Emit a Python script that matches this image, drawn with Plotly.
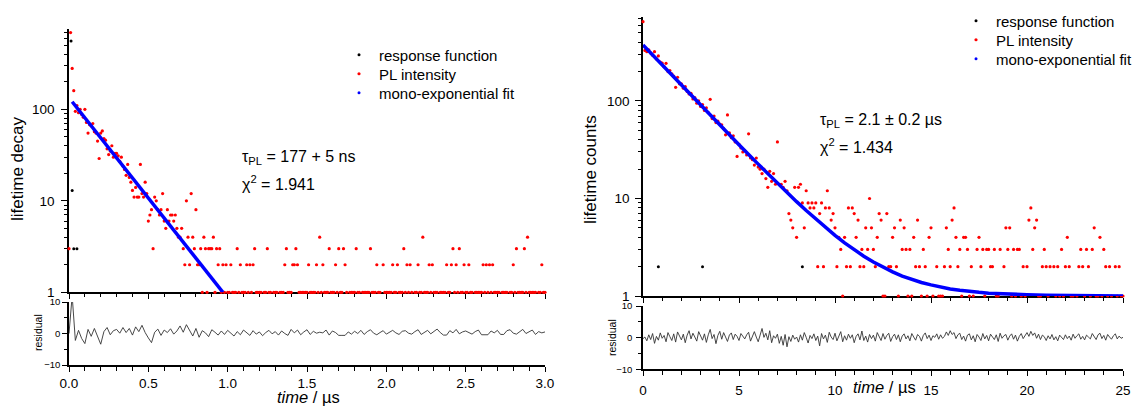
import plotly.graph_objects as go

FONT = "Liberation Sans, Arial, sans-serif"
W, H = 1136, 407

# ---------------- data: left panel (time in µs) ----------------
dt_left = 0.01
pl_left = [3, 690, 280, 160, 95, 110, 92, 100, 88, 82,
           100, 72, 55, 68, 66, 70, 57, 55, 45, 29,
           55, 58, 48, 46, 37, 32, 35, 40, 30, 33,
           33, 31, 27, 30, 24, 22, 19, 25, 18, 16,
           13, 11, 14, 11, 11, 25, 12, 11, 16, 12,
           6, 7, 8, 3, 11, 10, 8, 7, 8, 12,
           6, 5, 8, 6, 7, 7, 6, 7, 5, 4,
           4, 5, 3, 2, 10, 4, 2, 12, 4, 3,
           8, 2, 2, 3, 1, 4, 3, 1, 3, 3,
           3, 4, 1, 3, 2, 3, 1, 2, 1, 2,
           1, 1, 2, 1, 1, 1, 3, 1, 2, 1,
           1, 1, 2, 1, 2, 1, 2, 3, 1, 1,
           1, 1, 0, 1, 1, 3, 1, 1, 0, 1,
           1, 1, 0, 1, 1, 1, 2, 3, 1, 1,
           1, 2, 2, 3, 2, 1, 1, 1, 1, 1,
           1, 2, 1, 1, 1, 1, 2, 1, 4, 1,
           2, 1, 1, 1, 3, 1, 1, 1, 2, 1,
           3, 1, 1, 3, 2, 1, 0, 1, 1, 1,
           1, 3, 1, 1, 0, 1, 1, 1, 1, 1,
           3, 1, 1, 1, 2, 1, 1, 0, 2, 1,
           1, 1, 1, 1, 2, 1, 1, 2, 1, 1,
           1, 3, 1, 2, 1, 2, 1, 0, 1, 1,
           2, 1, 1, 4, 1, 1, 1, 2, 1, 2,
           1, 1, 1, 0, 1, 1, 1, 1, 2, 1,
           1, 2, 3, 1, 2, 1, 3, 1, 1, 2,
           1, 1, 2, 1, 1, 0, 1, 1, 1, 1,
           1, 2, 1, 2, 1, 2, 1, 2, 1, 1,
           1, 1, 0, 1, 1, 1, 1, 0, 1, 1,
           2, 1, 3, 1, 1, 1, 1, 3, 1, 4,
           1, 1, 1, 1, 1, 0, 1, 1, 2, 1,
           1]
t_left = [round(i * dt_left, 3) for i in range(len(pl_left))]

resp_left_t = [0.013, 0.02, 0.03, 0.05]
resp_left = [560, 13, 3, 3]

fit_left_t = [0.02, 0.25, 0.5, 0.75, 0.97]
fit_left = [121, 38, 10.7, 3.04, 1.0]

dt_res_left = 0.02
res_left = [0, 12, -2.2, 1.0, -1.6, -3.2, 1.3, -0.9, 1.6, -1.1,
            -3.4, 0.6, 1.9, -0.4, 0.9, 1.3, 0.1, 1.9, 0.3, 1.6,
            -0.5, 2.1, 0.6, 2.6, 0.3, -1.4, -2.9, 0.4, 1.4, -0.6,
            1.1, 0.3, 1.5, -0.2, 0.8, 2.4, 0.4, 2.8, 0.9, -0.8,
            1.6, -1.2, 0.9, 0.2, -1.0, 1.2, 0.4, -0.5, 0.8, -0.3,
            1.0, 0.1, -0.8, 0.6, -0.4, 1.1, 0.2, -0.6, 0.9, -0.2,
            0.5, -0.7, 0.3, 1.0, -0.1, 0.6, -0.5, 0.8, 0.0, -0.6,
            1.3, 0.2, 1.1, -0.4, 0.5, 1.2, -0.3, 0.7, 0.1, 0.4,
            0.2, 1.1, -0.5, 0.8, 0.3, -0.6, -0.6, -0.6, 0.5, -0.2,
            0.7, 0.0, 1.0, -0.3, 0.6, 1.2, 0.1, -0.4, 0.3, 0.9,
            -0.2, 0.5, 1.0, 0.2, -0.3, 0.7, 0.9, 0.1, -0.2, 0.6,
            1.2, -0.3, 0.4, 1.0, -0.1, 0.6, 1.4, 0.3, -0.5, -0.5,
            0.9, 0.2, 1.3, -0.1, 0.5, 0.8, 0.3, -0.2, 0.6, 1.1,
            -0.4, -0.4, -0.4, 0.8, 0.2, 1.0, -0.3, -0.3, 0.9, 1.2,
            0.1, -0.2, 0.7, 1.3, 0.0, 0.5, 1.1, -0.3, 0.6, 0.2,
            0.5]
t_res_left = [round(i * dt_res_left, 3) for i in range(len(res_left))]

# ---------------- data: right panel (time in µs) ----------------
dt_right = 0.1
pl_right = [650, 330, 320, 335, 310, 295, 320, 270, 290, 250,
            245, 225, 243, 200, 205, 190, 180, 138, 175, 150,
            150, 135, 140, 125, 118, 120, 105, 108, 95, 100,
            88, 92, 80, 85, 76, 104, 66, 70, 60, 62,
            58, 57, 52, 45, 72, 47, 42, 44, 38, 27,
            36, 33, 30, 31, 28, 46, 26, 25, 22, 26,
            21, 20, 18, 20, 16, 13, 19, 15, 18, 14,
            38, 14, 14, 13, 15, 12, 7, 6, 5, 13,
            4, 13, 14, 9, 5, 12, 9, 8, 9, 8,
            9, 2, 7, 9, 2, 8, 12, 8, 6, 7,
            5, 2, 4, 3, 1, 4, 2, 8, 2, 8,
            7, 4, 6, 2, 3, 2, 5, 3, 10, 5,
            3, 2, 4, 7, 6, 1, 1, 7, 2, 2,
            4, 5, 2, 1, 6, 3, 5, 3, 1, 3,
            1, 4, 2, 6, 2, 1, 3, 2, 1, 4,
            5, 1, 0, 2, 1, 1, 1, 2, 5, 3,
            2, 6, 8, 4, 2, 3, 1, 4, 4, 3,
            1, 2, 1, 0, 3, 4, 2, 3, 1, 3,
            3, 2, 2, 3, 1, 1, 3, 0, 2, 5,
            3, 5, 1, 3, 1, 3, 3, 1, 2, 1,
            2, 6, 8, 3, 5, 6, 1, 1, 2, 3,
            2, 1, 2, 0, 2, 1, 2, 1, 3, 1,
            2, 4, 2, 1, 1, 0, 1, 2, 3, 2,
            1, 3, 2, 1, 3, 5, 1, 1, 4, 1,
            3, 2, 1, 2, 1, 0, 2, 1, 2, 1,
            1]
t_right = [round(i * dt_right, 2) for i in range(len(pl_right))]

resp_right_t = [0.8, 3.1, 8.3]
resp_right = [2, 2, 2]

fit_right_t = [0, 1, 2, 3, 4, 5, 6, 7, 8, 8.5, 9, 9.5, 10, 10.5, 11, 11.5, 12,
               12.5, 13, 13.5, 14, 14.5, 15, 15.5, 16, 16.5, 17, 17.5, 18,
               19, 20, 21, 22, 23, 24, 25]
fit_right = [375, 233, 145, 90.6, 56.7, 35.6, 22.5, 14.3, 9.28, 7.53, 6.14,
             5.05, 4.19, 3.51, 2.98, 2.56, 2.23, 1.97, 1.77, 1.60, 1.48,
             1.375, 1.30, 1.233, 1.18, 1.144, 1.11, 1.09, 1.07,
             1.04, 1.03, 1.02, 1.01, 1.0, 1.0, 1.0]

dt_res_right = 0.1
res_right = [-0.3, 0.2, -1.0, 0.9, -0.6, 1.3, -1.8, 0.4, -0.8, 1.5,
             -0.2, 0.7, -1.3, 1.6, 0.3, -0.9, 1.2, -1.4, 1.8, 0.5,
             -0.7, 1.1, -1.6, 0.8, 2.2, -0.4, 1.4, 0.2, -1.1, 1.9,
             0.6, -0.8, 1.2, -1.5, 0.9, 2.6, -0.3, 1.0, -1.9, 0.7,
             2.0, -0.5, 1.6, 0.3, -1.2, 0.8, 1.5, -0.6, 1.1, 0.4,
             -0.9, 1.3, 0.6, -0.4, 0.9, 1.7, -1.1, 0.5, 1.9, 0.2,
             -1.3, 0.8, 2.9, 0.1, 1.4, -0.7, 2.2, -1.6, 0.6, -0.2,
             1.1, -1.8, 0.4, -2.4, 1.0, -2.9, 0.3, -1.2, 0.8, -0.5,
             0.2, -1.4, 0.9, -0.8, 1.6, 0.1, -1.7, 0.7, -0.3, 1.2,
             -0.9, 0.5, -2.6, 1.3, -0.4, 0.8, -1.5, 1.7, 0.2, -0.6,
             1.4, -1.0, 0.3, 1.9, -1.3, 0.6, -0.8, 1.1, -0.2, 0.9,
             -1.6, 0.4, 1.2, -0.7, 2.1, -0.9, 0.5, -1.4, 1.0, -0.3,
             0.8, -1.1, 1.6, 0.2, -0.9, 1.3, -0.5, 0.7, 1.4, -1.2,
             0.3, 1.1, -0.6, 0.9, -1.3, 0.5, 1.2, -0.4, 0.6, -1.0,
             1.3, 0.2, -0.8, 1.0, 0.4, -1.1, 0.7, 1.5, -0.3, 0.8,
             -0.9, 0.6, 0.1, 1.2, -0.5, 0.9, -0.2, 0.4, 1.8, 0.7,
             2.2, 1.0, 1.6, -0.3, 0.9, 1.4, -0.6, 0.5, -1.1, 0.8,
             1.2, -0.7, 0.6, -1.3, 1.0, 0.2, -0.9, 1.3, -0.4, 0.7,
             -1.0, 1.1, 0.3, -0.6, 0.9, -1.2, 1.4, -0.2, 0.6, 1.0,
             -0.8, 0.5, 1.2, -0.5, 0.8, -1.1, 0.4, 1.3, -0.3, 0.9,
             1.6, 0.4, 2.0, 0.7, 1.5, -0.2, 1.1, -0.6, 0.8, 0.3,
             -0.9, 0.6, -0.4, 1.0, -0.7, 0.3, -1.0, 0.8, 0.1, -0.6,
             0.9, -0.3, 0.5, -0.8, 1.1, -0.2, 0.6, 1.2, -0.5, 0.4,
             -0.7, 0.8, 0.2, -0.4, 1.3, 0.1, -0.6, 0.9, 1.4, -0.3,
             0.7, -0.8, 1.0, 0.2, -0.5, 0.6, 1.2, -0.4, 0.5, -0.2,
             0.1]
t_res_right = [round(i * dt_res_right, 2) for i in range(len(res_right))]

legend_names = ["response function", "PL intensity", "mono-exponential fit"]

# ---------------- figure ----------------
def px_x(p):
    return p / W


def px_y(p):
    return 1 - p / H


fig = go.Figure()

panels = [
    dict(xa="x", ya="y", xr="x2", yr="y2", legs=["legend", "legend2", "legend3"],
         t=t_left, pl=pl_left, rt=resp_left_t, r=resp_left,
         ft=fit_left_t, f=fit_left, tr=t_res_left, res=res_left),
    dict(xa="x3", ya="y3", xr="x4", yr="y4", legs=["legend4", "legend5", "legend6"],
         t=t_right, pl=pl_right, rt=resp_right_t, r=resp_right,
         ft=fit_right_t, f=fit_right, tr=t_res_right, res=res_right),
]

for p in panels:
    fig.add_trace(go.Scatter(x=p["rt"], y=p["r"], mode="markers",
                             marker=dict(color="black", size=3),
                             name=legend_names[0], legend=p["legs"][0],
                             xaxis=p["xa"], yaxis=p["ya"], cliponaxis=False))
    fig.add_trace(go.Scatter(x=p["t"], y=p["pl"], mode="markers",
                             marker=dict(color="#ff0000", size=3.2),
                             name=legend_names[1], legend=p["legs"][1],
                             xaxis=p["xa"], yaxis=p["ya"], cliponaxis=False))
    fig.add_trace(go.Scatter(x=p["ft"], y=p["f"], mode="lines",
                             line=dict(color="#0000ff", width=3.5),
                             showlegend=False,
                             xaxis=p["xa"], yaxis=p["ya"], cliponaxis=False))
    fig.add_trace(go.Scatter(x=[None], y=[None], mode="markers",
                             marker=dict(color="#0000ff", size=3),
                             name=legend_names[2], legend=p["legs"][2],
                             xaxis=p["xa"], yaxis=p["ya"]))
    fig.add_trace(go.Scatter(x=p["tr"], y=p["res"], mode="lines",
                             line=dict(color="#333333", width=0.9),
                             showlegend=False,
                             xaxis=p["xr"], yaxis=p["yr"]))

axis_common = dict(showline=True, linecolor="black", linewidth=1.6,
                   ticks="outside", tickcolor="black", tickwidth=1.4,
                   showgrid=False, zeroline=False, mirror=False)

left_dom = [px_x(69), px_x(545)]
right_dom = [px_x(643), px_x(1123)]


def legend_box(x_text, y_center):
    return dict(x=px_x(x_text - 40), y=px_y(y_center), xanchor="left", yanchor="middle",
                font=dict(size=15, family=FONT, color="black"), bgcolor="rgba(0,0,0,0)",
                borderwidth=0)


fig.update_layout(
    width=W, height=H,
    margin=dict(l=0, r=0, t=0, b=0, autoexpand=False),
    paper_bgcolor="white", plot_bgcolor="white",
    font=dict(family=FONT, color="black"),
    # left main
    xaxis=dict(domain=left_dom, anchor="y", range=[0, 3], tick0=0, dtick=0.5,
               ticklen=5, showticklabels=False, layer="below traces",
               minor=dict(ticks="outside", dtick=0.1, ticklen=3, tickcolor="black", tickwidth=1.2),
               **axis_common),
    yaxis=dict(domain=[px_y(292.3), px_y(29)], anchor="x", type="log",
               range=[0, 2.878], tickvals=[1, 10, 100], ticktext=["1", "10", "100"],
               ticklen=6, tickfont=dict(size=13.5), layer="below traces",
               ticklabelstandoff=4,
               minor=dict(ticks="outside", dtick="D1", ticklen=3.5, tickcolor="black", tickwidth=1.2),
               **axis_common),
    # left residual
    xaxis2=dict(domain=left_dom, anchor="y2", range=[0, 3], tick0=0, dtick=0.5,
                tickformat=".1f", ticklen=5, tickfont=dict(size=13.5),
                ticklabelstandoff=0,
                minor=dict(ticks="outside", dtick=0.1, ticklen=4, tickcolor="black", tickwidth=1.2),
                **axis_common),
    yaxis2=dict(domain=[px_y(365), px_y(302)], anchor="x2", range=[-10, 10],
                tickvals=[-10, 0, 10], ticklen=5, tickfont=dict(size=9.5),
                minor=dict(ticks="outside", dtick=5, ticklen=3, tickcolor="black", tickwidth=1.2),
                **axis_common),
    # right main
    xaxis3=dict(domain=right_dom, anchor="y3", range=[0, 25], tick0=0, dtick=5,
                ticklen=5, showticklabels=False, layer="below traces",
                minor=dict(ticks="outside", dtick=1, ticklen=3, tickcolor="black", tickwidth=1.2),
                **axis_common),
    yaxis3=dict(domain=[px_y(296), px_y(17.3)], anchor="x3", type="log",
                range=[0, 2.858], tickvals=[1, 10, 100], ticktext=["1", "10", "100"],
                ticklen=6, tickfont=dict(size=13.5), layer="below traces",
                ticklabelstandoff=3,
                minor=dict(ticks="outside", dtick="D1", ticklen=3.5, tickcolor="black", tickwidth=1.2),
                **axis_common),
    # right residual
    xaxis4=dict(domain=right_dom, anchor="y4", range=[0, 25], tick0=0, dtick=5,
                ticklen=5, tickfont=dict(size=13.5), ticklabelstandoff=3,
                minor=dict(ticks="outside", dtick=1, ticklen=4, tickcolor="black", tickwidth=1.2),
                **axis_common),
    yaxis4=dict(domain=[px_y(369.3), px_y(306)], anchor="x4", range=[-10, 10],
                tickvals=[-10, 0, 10], ticklen=5, tickfont=dict(size=9.5),
                ticklabelstandoff=2,
                minor=dict(ticks="outside", dtick=5, ticklen=3, tickcolor="black", tickwidth=1.2),
                **axis_common),
    legend=legend_box(379, 55),
    legend2=legend_box(379, 74),
    legend3=legend_box(379, 93),
    legend4=legend_box(996, 21),
    legend5=legend_box(996, 40),
    legend6=legend_box(996, 59),
)

ann = []


def add_text(x, y, text, size, angle=0, xanchor="center", yanchor="middle"):
    ann.append(dict(x=px_x(x), y=px_y(y), xref="paper", yref="paper", text=text,
                    showarrow=False, textangle=angle, xanchor=xanchor, yanchor=yanchor,
                    font=dict(size=size, family=FONT, color="black")))


add_text(18, 169, "lifetime decay", 17, -90)
add_text(591, 169, "lifetime counts", 17, -90)
add_text(38, 333, "residual", 10.5, -90)
add_text(612, 337, "residual", 10.5, -90)
add_text(308, 408, "<i>time</i> / µs", 16.5, yanchor="bottom")
add_text(884, 398, "<i>time</i> / µs", 16.5, yanchor="bottom")
add_text(240, 157, "τ<sub>PL</sub> = 177 + 5 ns", 16, xanchor="left")
add_text(240, 183, "χ<sup>2</sup> = 1.941", 16, xanchor="left")
add_text(818, 120, "τ<sub>PL</sub> = 2.1 ± 0.2 µs", 16, xanchor="left")
add_text(818, 146, "χ<sup>2</sup> = 1.434", 16, xanchor="left")

fig.update_layout(annotations=ann)

fig.write_html("out.html")
